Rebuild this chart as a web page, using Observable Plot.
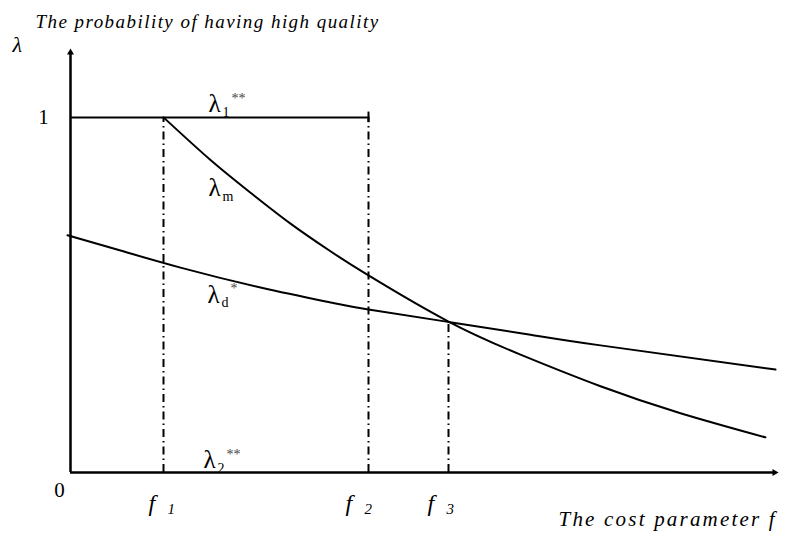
<!DOCTYPE html>
<html><head><meta charset="utf-8">
<script src="https://cdn.jsdelivr.net/npm/d3@7"></script>
<script src="https://cdn.jsdelivr.net/npm/@observablehq/plot@0.6"></script>
<style>body{margin:0;background:#fff}</style>
</head><body><div id="chart"></div>
<script>
// axis extents (data units)
const fMax = 7.08, lamMax = 1.194;
// cost thresholds
const f1 = 0.93, f2 = 2.98, f3 = 3.78;
// lambda_m curve
const lamMf = [0.93, 1.40, 1.80, 2.20, 2.60, 2.98, 3.78, 4.50, 5.30, 6.10, 6.95];
const lamMv = [1.000, 0.880, 0.788, 0.701, 0.623, 0.555, 0.425, 0.332, 0.243, 0.167, 0.099];
// lambda_d* curve
const lamDf = [-0.03, 0.50, 1.10, 1.90, 2.60, 2.98, 3.78, 4.60, 5.30, 7.05];
const lamDv = [0.668, 0.625, 0.577, 0.521, 0.479, 0.459, 0.424, 0.388, 0.358, 0.290];
// lambda_1** segment
const lam1f = [0, f2];
const lam1v = [1, 1];
// curve labels
const labBase = ["λ", "λ", "λ", "λ"];
const labSub = ["1", "m", "d", "2"];
const labSup = ["**", "", "*", "**"];
const labF = [1.38, 1.38, 1.37, 1.33];
const labV = [1.037, 0.80, 0.501, 0.034];
// f tick labels
const fLabSub = ["1", "2", "3"];
const fLabF = [0.78, 2.75, 3.57];
const fLabV = -0.088;
// texts
const title = "The probability of having high quality";
const yName = "λ";
const xName = "The cost parameter f";

const lamM = lamMf.map((f, i) => ({f, lam: lamMv[i]}));
const lamD = lamDf.map((f, i) => ({f, lam: lamDv[i]}));
const lam1 = lam1f.map((f, i) => ({f, lam: lam1v[i]}));
const labs = labBase.map((b, i) => ({b, s: labSub[i], p: labSup[i], f: labF[i], lam: labV[i]}));
const fLabs = fLabSub.map((s, i) => ({s, f: fLabF[i], lam: fLabV}));
const vlines = [{f: f1, top: 1}, {f: f2, top: 1}, {f: f3, top: 0.424}];

const serif = "Liberation Serif";
const dash = "8,4,1.5,4";
const T = (o) => ({fontFamily: serif, fill: "#000", ...o});

const chart = Plot.plot({
  width: 792, height: 535,
  marginLeft: 70, marginRight: 14, marginTop: 48, marginBottom: 63,
  x: {domain: [0, fMax], axis: null},
  y: {domain: [0, lamMax], axis: null},
  style: {fontFamily: "'Liberation Serif', serif", background: "#fff"},
  marks: [
    // dash-dot verticals
    Plot.ruleX(vlines, {x: "f", y1: 0, y2: "top", stroke: "#000", strokeWidth: 2, strokeDasharray: dash}),
    // axes
    Plot.ruleX([0], {y1: 0, y2: lamMax - 0.01, stroke: "#000", strokeWidth: 2.5}),
    Plot.ruleY([0], {x1: 0, x2: fMax - 0.04, stroke: "#000", strokeWidth: 2.5}),
    Plot.dot([{f: 0, lam: lamMax}], {x: "f", y: "lam", symbol: "triangle", r: 2.6, fill: "#000", stroke: "none", dy: 4}),
    Plot.dot([{f: fMax, lam: 0}], {x: "f", y: "lam", symbol: "triangle", r: 2.6, fill: "#000", stroke: "none", rotate: 90, dx: -4}),
    // lambda_1** line and end cap
    Plot.line(lam1, {x: "f", y: "lam", stroke: "#000", strokeWidth: 2}),
    Plot.ruleX([f2], {y1: 0.985, y2: 1.015, stroke: "#000", strokeWidth: 2}),
    // curves
    Plot.line(lamM, {x: "f", y: "lam", curve: "natural", stroke: "#000", strokeWidth: 2}),
    Plot.line(lamD, {x: "f", y: "lam", curve: "natural", stroke: "#000", strokeWidth: 2}),
    // curve labels
    Plot.text(labs, T({x: "f", y: "lam", text: "b", textAnchor: "start", fontSize: 25})),
    Plot.text(labs, T({x: "f", y: "lam", text: "s", textAnchor: "start", fontSize: 14, dx: 14, dy: 8})),
    Plot.text(labs, T({x: "f", y: "lam", text: "p", textAnchor: "start", fontSize: 14, dx: 23, dy: -6, fill: "#444"})),
    // f labels
    Plot.text(fLabs, T({x: "f", y: "lam", text: () => "f", textAnchor: "start", fontSize: 24, fontStyle: "italic"})),
    Plot.text(fLabs, T({x: "f", y: "lam", text: "s", textAnchor: "start", fontSize: 15, fontStyle: "italic", dx: 19, dy: 5})),
    // 0 and 1
    Plot.text([{t: "1", f: -0.27, lam: 1}, {t: "0", f: -0.11, lam: -0.051}], T({x: "f", y: "lam", text: "t", fontSize: 21})),
    // title, axis names
    Plot.text([{t: title, f: -0.35, lam: 1.268}], T({x: "f", y: "lam", text: "t", textAnchor: "start", fontSize: 19, fontStyle: "italic"})),
    Plot.text([{t: yName, f: -0.58, lam: 1.203}], T({x: "f", y: "lam", text: "t", textAnchor: "start", fontSize: 22, fontStyle: "italic"})),
    Plot.text([{t: xName, f: 4.88, lam: -0.132}], T({x: "f", y: "lam", text: "t", textAnchor: "start", fontSize: 21, fontStyle: "italic"}))
  ]
});
document.getElementById("chart").append(chart);
// letter spacing for the long italic texts
chart.querySelectorAll("text").forEach(t => {
  if (t.textContent === title) t.setAttribute("letter-spacing", "1.45");
  if (t.textContent === xName) t.setAttribute("letter-spacing", "2.2");
});
</script>
</body></html>
